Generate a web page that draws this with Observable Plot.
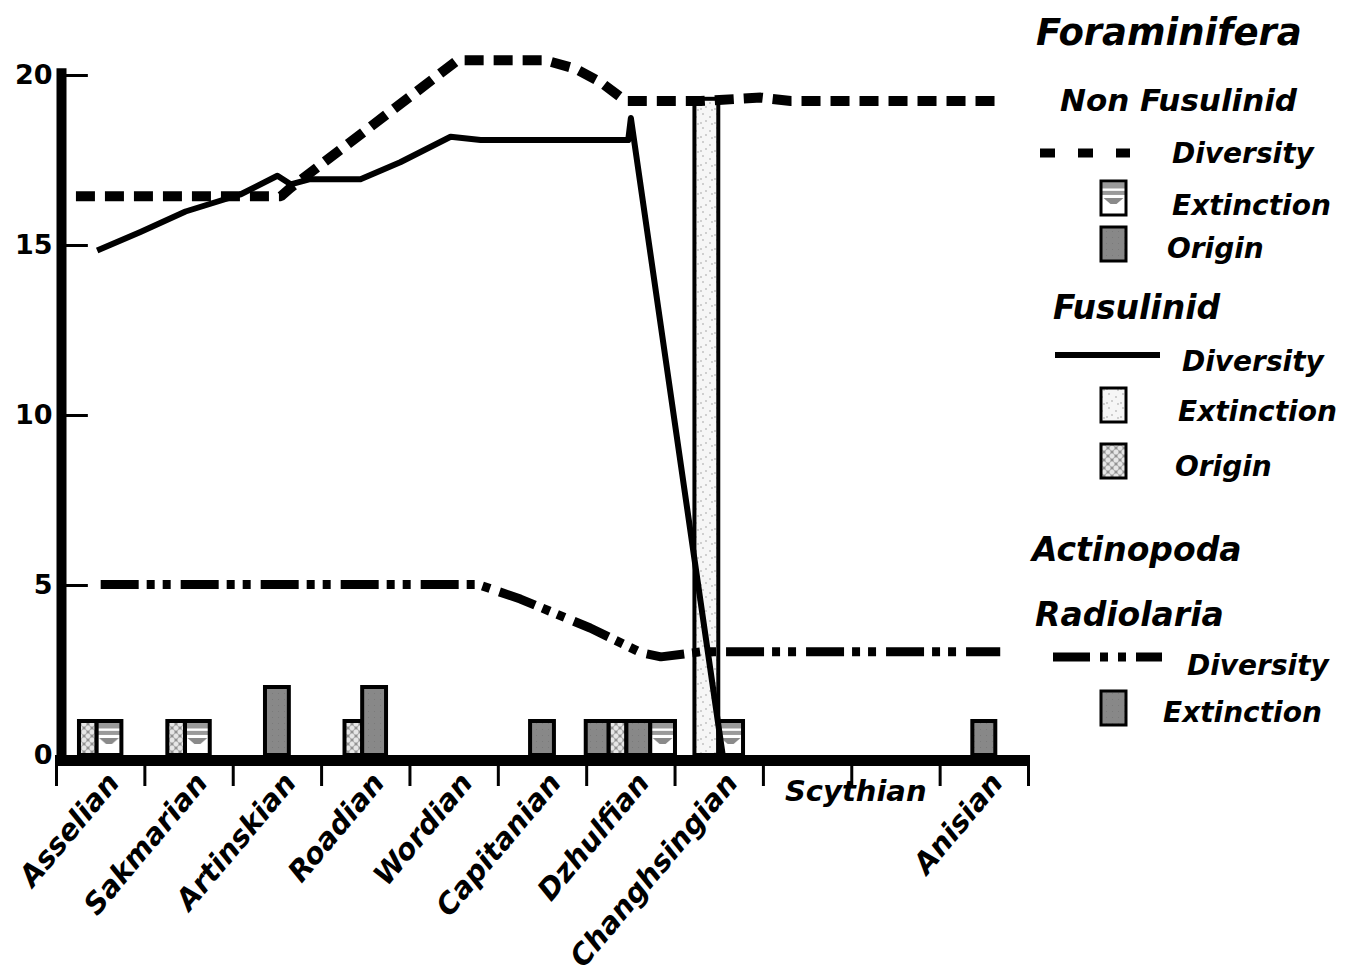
<!DOCTYPE html>
<html>
<head>
<meta charset="utf-8">
<script src="https://cdn.jsdelivr.net/npm/d3@7"></script>
<script src="https://cdn.jsdelivr.net/npm/@observablehq/plot@0.6"></script>
<style>
  body { margin: 0; background: #fff; }
  #chart { width: 1348px; height: 974px; }
  #chart svg { display: block; }
</style>
</head>
<body>
<div id="chart"></div>
<script>
// ---------------- data ----------------
const stages = ["Asselian","Sakmarian","Artinskian","Roadian","Wordian","Capitanian","Dzhulfian","Changhsingian","Scythian","Anisian"];
// location of each stage on the stage axis (band units; Scythian spans two bands)
const stageAt = [0.5, 1.5, 2.5, 3.5, 4.5, 5.5, 6.5, 7.5, 9, 10.5];
const bandEdges = [0,1,2,3,4,5,6,7,8,9,10,11];
const yTicks = [0, 5, 10, 15, 20];

// Non Fusulinid diversity (dashed)
const nonFusX   = [0.22, 2.54, 2.65, 4.54, 5.53, 5.87, 6.16, 6.44, 7.29, 7.97, 8.31, 10.68];
const nonFusDiv = [16.45, 16.45, 16.7, 20.45, 20.45, 20.2, 19.8, 19.25, 19.25, 19.35, 19.25, 19.25];

// Fusulinid diversity (solid)
const fusX   = [0.46, 0.95, 1.46, 2.08, 2.50, 2.65, 2.87, 3.44, 3.89, 4.46, 4.80, 6.47, 6.50, 7.54];
const fusDiv = [14.85, 15.4, 16.0, 16.5, 17.05, 16.8, 16.95, 16.95, 17.45, 18.2, 18.1, 18.1, 18.75, 0];

// Actinopoda Radiolaria diversity (dash-dot-dot)
const radX   = [0.50, 4.77, 5.25, 6.04, 6.61, 6.84, 7.29, 10.68];
const radDiv = [5.03, 5.03, 4.6, 3.75, 3.03, 2.9, 3.05, 3.05];

// Origination / extinction bars
const barStage  = ["Asselian","Asselian","Sakmarian","Sakmarian","Artinskian","Roadian","Roadian","Capitanian",
                   "Dzhulfian","Dzhulfian","Dzhulfian","Dzhulfian","Changhsingian","Changhsingian","Anisian"];
const barSeries = ["Fusulinid Origin","Non Fusulinid Extinction","Fusulinid Origin","Non Fusulinid Extinction",
                   "Non Fusulinid Origin","Fusulinid Origin","Non Fusulinid Origin","Non Fusulinid Origin",
                   "Radiolaria Extinction","Fusulinid Origin","Non Fusulinid Origin","Non Fusulinid Extinction",
                   "Fusulinid Extinction","Non Fusulinid Extinction","Radiolaria Extinction"];
const barValue  = [1,1,1,1,2,1,2,1,1,1,1,1,19.3,1,1];

// ---------------- styles ----------------
const seriesOrder = ["Radiolaria Extinction","Fusulinid Origin","Fusulinid Extinction","Non Fusulinid Origin","Non Fusulinid Extinction"];
const barWidth = {"Radiolaria Extinction":0.26,"Fusulinid Origin":0.2,"Fusulinid Extinction":0.27,"Non Fusulinid Origin":0.27,"Non Fusulinid Extinction":0.28};
const barFill = {
  "Radiolaria Extinction":"url(#pGray)",
  "Fusulinid Origin":"url(#pCross)",
  "Fusulinid Extinction":"url(#pSpeck)",
  "Non Fusulinid Origin":"url(#pGray)",
  "Non Fusulinid Extinction":"url(#pStripe)"
};

// build tables
const line = (xs, ys) => xs.map((x, i) => ({x, y: ys[i]}));
const bars = barStage.map((s, i) => ({stage: s, series: barSeries[i], value: barValue[i]}));
for (const [s, arr] of d3.group(bars, d => d.stage)) {
  arr.sort((a, b) => seriesOrder.indexOf(a.series) - seriesOrder.indexOf(b.series));
  const total = d3.sum(arr, d => barWidth[d.series]);
  let x = stageAt[stages.indexOf(s)] - total / 2;
  for (const d of arr) { d.x1 = x; x += barWidth[d.series]; d.x2 = x; }
}
const labels = stages.map((s, i) => ({s, x: stageAt[i]}));
const rotated = labels.filter(d => d.s !== "Scythian");
const flat = labels.filter(d => d.s === "Scythian");

const FONT = "DejaVu Sans, Verdana, sans-serif";
const lineStyle = {x: "x", y: "y", stroke: "black", strokeLinecap: "butt", strokeLinejoin: "miter"};

const chart = Plot.plot({
  width: 1348,
  height: 974,
  marginLeft: 56,
  marginRight: 320,
  marginTop: 75,
  marginBottom: 219,
  x: {domain: [0, 11], axis: null},
  y: {domain: [0, 20], axis: null},
  color: {type: "identity"},
  style: {fontFamily: FONT, color: "black", background: "white", overflow: "visible"},
  marks: [
    Plot.rect(bars, {x1: "x1", x2: "x2", y1: 0, y2: "value", fill: d => barFill[d.series], stroke: "black", strokeWidth: 4}),
    Plot.line(line(radX, radDiv), {...lineStyle, strokeWidth: 9, strokeDasharray: "38,8,8,8,8,10"}),
    Plot.line(line(nonFusX, nonFusDiv), {...lineStyle, strokeWidth: 10, strokeDasharray: "19,10"}),
    Plot.line(line(fusX, fusDiv), {...lineStyle, strokeWidth: 6, strokeLinejoin: "round"}),
    // axes
    Plot.ruleX([0], {y1: 0, y2: 20.2, stroke: "black", strokeWidth: 10, dx: 5}),
    Plot.ruleY(yTicks.filter(v => v > 0), {x1: 0, x2: 0.27, stroke: "black", strokeWidth: 3, dx: 8}),
    Plot.axisY(yTicks, {tickSize: 0, tickPadding: 4, fontSize: 27, fontWeight: "bold", label: null}),
    Plot.axisX(bandEdges, {tickSize: 31, tickFormat: () => "", strokeWidth: 3, label: null}),
    Plot.ruleY([0], {x1: 0, x2: 11.02, stroke: "black", strokeWidth: 11, dy: 5}),
    Plot.text(rotated, {x: "x", text: "s", frameAnchor: "bottom", dx: 20, dy: 28, rotate: -50, textAnchor: "end",
      fontSize: 29, fontWeight: "bold", fontStyle: "italic", fill: "black"}),
    Plot.text(flat, {x: "x", text: "s", frameAnchor: "bottom", dx: 4, dy: 45, textAnchor: "middle",
      fontSize: 29, fontWeight: "bold", fontStyle: "italic", fill: "black"})
  ]
});

// ---------------- patterns ----------------
const svg = d3.select(chart);
const defs = svg.insert("defs", ":first-child");
const pg = defs.append("pattern").attr("id", "pGray").attr("width", 6).attr("height", 6).attr("patternUnits", "userSpaceOnUse");
pg.append("rect").attr("width", 6).attr("height", 6).attr("fill", "#888888");
pg.append("rect").attr("x", 2).attr("y", 3).attr("width", 1).attr("height", 1).attr("fill", "#7a7a7a");

const pc = defs.append("pattern").attr("id", "pCross").attr("width", 8).attr("height", 8).attr("patternUnits", "userSpaceOnUse");
pc.append("rect").attr("width", 8).attr("height", 8).attr("fill", "#8f8f8f");
for (const [cx, cy] of [[0,0],[8,0],[0,8],[8,8],[4,4]])
  pc.append("circle").attr("cx", cx).attr("cy", cy).attr("r", 2.9).attr("fill", "#e6e6e6").attr("stroke", "#9a9a9a").attr("stroke-width", 0.6);

const ps = defs.append("pattern").attr("id", "pSpeck").attr("width", 14).attr("height", 14).attr("patternUnits", "userSpaceOnUse");
ps.append("rect").attr("width", 14).attr("height", 14).attr("fill", "#f6f6f6");
for (const [cx, cy] of [[3,2],[10,5],[6,9],[12,12],[1,11]])
  ps.append("circle").attr("cx", cx).attr("cy", cy).attr("r", 0.9).attr("fill", "#bdbdbd");

const pt = defs.append("pattern").attr("id", "pStripe").attr("width", 1).attr("height", 1)
  .attr("patternUnits", "objectBoundingBox").attr("patternContentUnits", "objectBoundingBox");
pt.append("rect").attr("width", 1).attr("height", 1).attr("fill", "white");
pt.append("rect").attr("y", 0.05).attr("width", 1).attr("height", 0.17).attr("fill", "#9a9a9a");
pt.append("rect").attr("y", 0.29).attr("width", 1).attr("height", 0.12).attr("fill", "#9a9a9a");
pt.append("path").attr("d", "M0.1,0.5 L0.9,0.5 L0.62,0.68 L0.38,0.68 Z").attr("fill", "#8a8a8a");

// ---------------- legend ----------------
const L = svg.append("g").attr("font-family", FONT).attr("font-weight", "bold").attr("font-style", "italic")
  .attr("fill", "black").attr("text-anchor", "start");
const legendText = [
  ["Foraminifera", 1036, 32, 37],
  ["Non Fusulinid", 1060, 100, 31],
  ["Diversity", 1172, 153, 28],
  ["Extinction", 1172, 205, 28],
  ["Origin", 1167, 248, 28],
  ["Fusulinid", 1053, 307, 33],
  ["Diversity", 1182, 361, 28],
  ["Extinction", 1178, 411, 28],
  ["Origin", 1175, 466, 28],
  ["Actinopoda", 1032, 549, 33],
  ["Radiolaria", 1035, 614, 33],
  ["Diversity", 1187, 665, 28],
  ["Extinction", 1163, 712, 28]
];
for (const [t, x, y, s] of legendText)
  L.append("text").attr("x", x).attr("y", y).attr("dy", "0.36em").attr("font-size", s)
    .attr("text-anchor", "start").text(t);

const legendLines = [
  [1040, 1130, 153, 9, "15,23"],
  [1055, 1160, 355, 6, null],
  [1053, 1162, 657, 9, "37,10,8,10,8,10"]
];
for (const [x1, x2, y, w, dash] of legendLines)
  L.append("line").attr("x1", x1).attr("x2", x2).attr("y1", y).attr("y2", y)
    .attr("stroke", "black").attr("stroke-width", w).attr("stroke-dasharray", dash);

const legendSwatches = [
  [1101, 181, "url(#pStripe)"],
  [1101, 227, "url(#pGray)"],
  [1101, 388, "url(#pSpeck)"],
  [1101, 444, "url(#pCross)"],
  [1101, 691, "url(#pGray)"]
];
for (const [x, y, f] of legendSwatches)
  L.append("rect").attr("x", x).attr("y", y).attr("width", 25).attr("height", 34)
    .attr("fill", f).attr("stroke", "black").attr("stroke-width", 3);

document.getElementById("chart").appendChild(chart);
</script>
</body>
</html>
